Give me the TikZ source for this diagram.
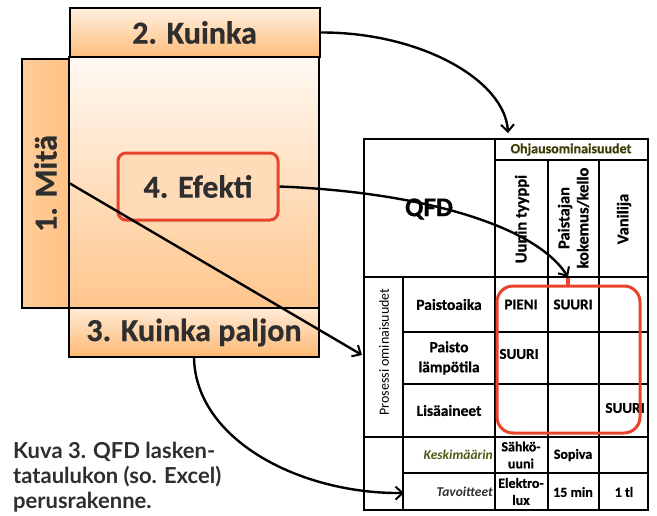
\documentclass[tikz,border=0pt]{standalone}
\usepackage{fontspec}
\setmainfont{Carlito}[BoldFeatures={FakeBold=0.6}]
\newfontfamily\capfont{Lato}
\usetikzlibrary{arrows.meta}
\definecolor{txtgray}{HTML}{2E2E2E}
\definecolor{redline}{HTML}{E8432B}
\definecolor{olive}{HTML}{3D3D08}
\definecolor{olive2}{HTML}{4B5A12}
\colorlet{efill}{orange!28!white}
\tikzset{
  bigbox/.style={draw=black, line width=2pt, minimum width=250pt, minimum height=49pt, inner sep=0pt,
    text=txtgray, font=\fontsize{32}{36}\selectfont\bfseries},
  arr/.style={line width=2.4pt, -{Straight Barb[length=7pt,width=13pt,line width=2pt]}},
  grid/.style={line width=1.5pt},
  rowlab/.style={font=\fontsize{15.5}{17}\selectfont\bfseries, align=center, inner sep=0pt},
  celltxt/.style={font=\fontsize{15}{15}\selectfont\bfseries, align=center, inner sep=0pt},
  vhead/.style={font=\fontsize{16.5}{16}\selectfont\bfseries, align=center, inner sep=0pt, rotate=90},
}
\begin{document}
\begin{tikzpicture}[x=1pt,y=-1pt]
\useasboundingbox (0,0) rectangle (657,515);
% left diagram
\node[draw=black, line width=2pt, minimum width=250pt, minimum height=251pt, inner sep=0pt,
      top color=white!40!orange!8, bottom color=orange!45!white] (main) at (194,182.5) {};
\node[draw=black, line width=2pt, minimum width=47pt, minimum height=249pt, inner sep=0pt,
      left color=orange!40!white, middle color=orange!14!white, right color=orange!48!white] (mita) at (45.5,183.5) {};
\node[rotate=90, text=txtgray, font=\fontsize{32}{36}\selectfont\bfseries] (mitatxt) at (45.5,183.5) {1. Mitä};
\node[bigbox, top color=orange!12!white, bottom color=orange!52!white] (kuinka) at (194.5,32.5) {2. Kuinka};
\node[bigbox, top color=orange!16!white, bottom color=orange!55!white] (paljon) at (194,332.5) {3. Kuinka paljon};
\node[draw=redline, line width=3pt, fill=efill, rounded corners=8pt, minimum width=160pt, minimum height=67pt,
      inner sep=0pt, text=txtgray, font=\fontsize{32}{36}\selectfont\bfseries] (efekti) at (198,186.5) {4. Efekti};

% caption
\node[anchor=west, align=left, inner sep=0pt, text=txtgray, font=\capfont\fontsize{22}{25}\selectfont\bfseries] (cap) at (13,477)
  {Kuva 3. QFD lasken-\\tataulukon (so. Excel)\\perusrakenne.};

% table grid
\draw[line width=2pt] (364,139) rectangle (648,510);
\draw[grid] (403,277) -- (403,510);
\draw[grid] (495,139) -- (495,510);
\draw[grid] (548,160) -- (548,510);
\draw[grid] (599,160) -- (599,510);
\draw[grid] (495,160) -- (648,160);
\draw[grid] (364,277) -- (648,277);
\draw[grid] (403,332) -- (648,332);
\draw[grid] (403,384) -- (648,384);
\draw[grid] (364,437) -- (648,437);
\draw[grid] (403,473) -- (648,473);

% table texts
\node[font=\fontsize{27}{30}\selectfont\bfseries, inner sep=0pt] (qfd) at (429,209) {QFD};
\node[font=\fontsize{14}{14}\selectfont\bfseries, text=olive, inner sep=0pt] (ohj) at (571,149.5) {Ohjausominaisuudet};
\node[vhead] (uuni) at (522,219) {Uunin tyyppi};
\node[vhead, font=\fontsize{16.5}{19}\selectfont\bfseries] (paist) at (573.5,218) {Paistajan\\kokemus/kello};
\node[vhead] (vani) at (624,219) {Vanilija};
\node[rotate=90, font=\fontsize{14}{14}\selectfont, inner sep=0pt] (pros) at (384,352) {Prosessi ominaisuudet};
\node[rowlab] (r1) at (449,304.5) {Paistoaika};
\node[rowlab, font=\fontsize{15.5}{20}\selectfont\bfseries] (r2) at (449,358) {Paisto\\lämpötila};
\node[rowlab] (r3) at (449,410.5) {Lisäaineet};
\node[anchor=east, inner sep=0pt, text=olive2, font=\fontsize{13.5}{14}\selectfont\bfseries\itshape] (r4) at (493,455) {Keskimäärin};
\node[anchor=east, inner sep=0pt, text=txtgray, font=\fontsize{13.5}{14}\selectfont\bfseries\itshape] (r5) at (493,491.5) {Tavoitteet};
\node[celltxt] (c11) at (521,304.5) {PIENI};
\node[celltxt] (c12) at (573,304.5) {SUURI};
\node[celltxt] (c21) at (519,354) {SUURI};
\node[celltxt] (c33) at (625,408) {SUURI};
\node[celltxt, font=\fontsize{14}{17}\selectfont\bfseries] (c41) at (521,455) {Sähkö-\\uuni};
\node[celltxt, font=\fontsize{14}{17}\selectfont\bfseries] (c42) at (573,455) {Sopiva};
\node[celltxt, font=\fontsize{14}{17}\selectfont\bfseries] (c51) at (521,491.5) {Elektro-\\lux};
\node[celltxt, font=\fontsize{14}{17}\selectfont\bfseries] (c52) at (573,492) {15 min};
\node[celltxt, font=\fontsize{14}{17}\selectfont\bfseries] (c53) at (624,492) {1 tl};

% red region
\draw[redline, line width=3pt, rounded corners=16pt] (497,286) rectangle (640,433);
\draw[redline, line width=3.5pt] (568,278) -- (568,287);

% connectors
\coordinate (t1) at (508,133);
\coordinate (t2) at (568,277);
\coordinate (t3) at (362,355);
\coordinate (t4) at (404,493);
\draw[arr] (kuinka.east) .. controls (420,32) and (505,80) .. (t1);
\draw[arr] (efekti.east) .. controls (420,192) and (535,225) .. (t2);
\draw[arr] (mita.east) -- (t3);
\draw[arr] (paljon.south) .. controls (196,440) and (300,494) .. (t4);
\end{tikzpicture}
\end{document}
